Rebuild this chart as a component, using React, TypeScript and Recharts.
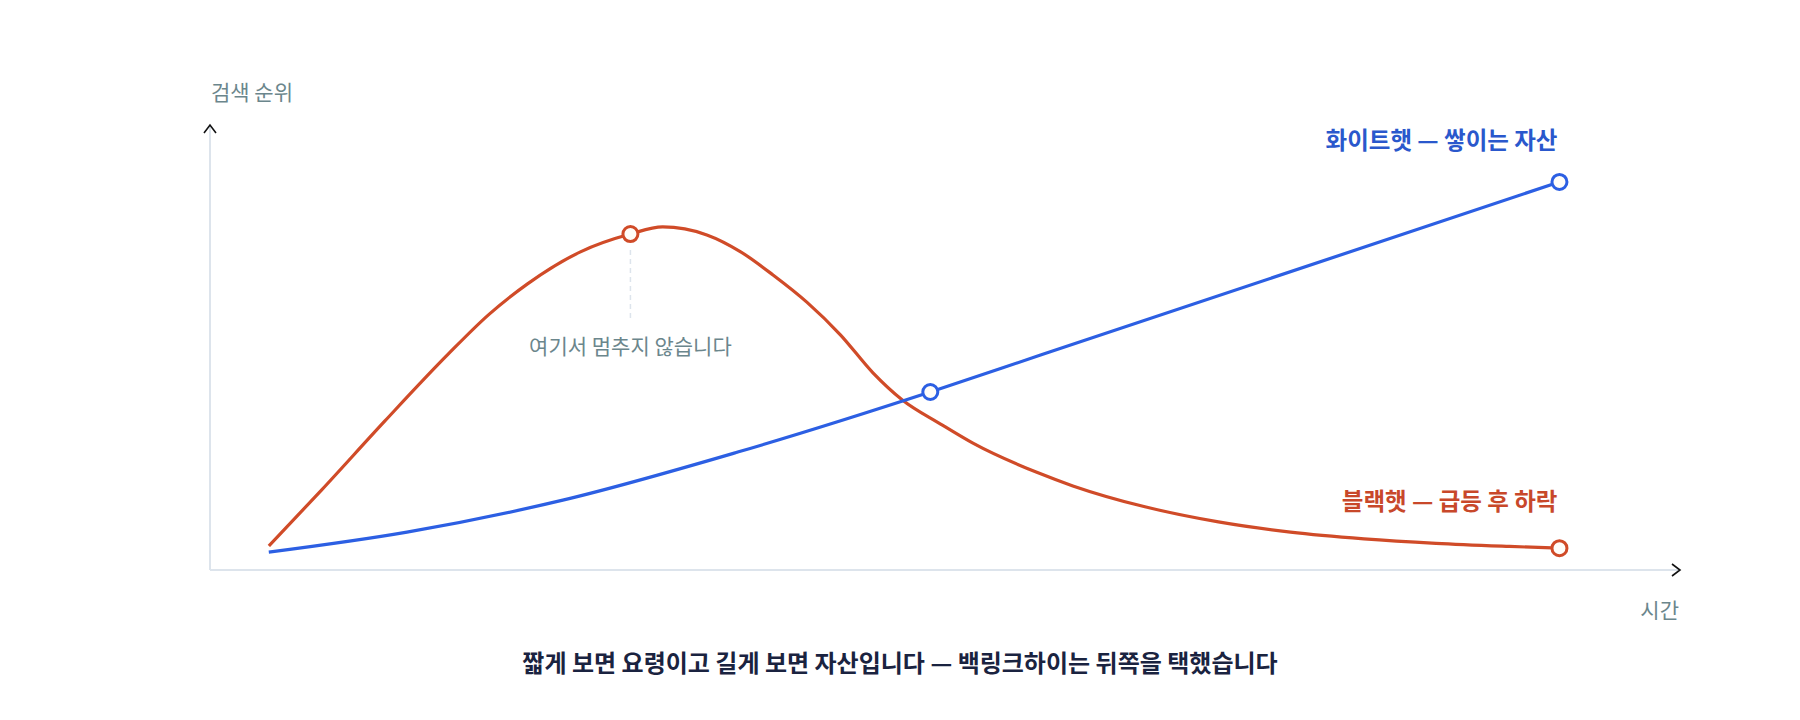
import { LineChart, Line, XAxis, YAxis, ReferenceDot, ReferenceLine } from "recharts";

// time (0-100 across the axis) and search rank (0-100 up the axis)
const blackHatTime = [4.0, 7.6, 11.9, 16.2, 19.0, 21.6, 25.2, 28.6, 30.8, 33.8, 36.1, 38.3, 40.6, 42.9, 45.1, 47.1, 49.7, 51.9, 56.2, 58.7, 63.6, 68.6, 73.5, 78.5, 83.4, 88.4, 91.8];
const blackHatRank = [5.4, 18.0, 33.5, 48.5, 57.5, 64.3, 71.5, 75.5, 77.1, 75.3, 71.5, 66.3, 60.2, 52.8, 44.3, 38.2, 32.8, 28.5, 22.0, 18.9, 14.2, 10.8, 8.5, 7.0, 6.0, 5.3, 4.9];
const blackHatMarks = [7, 26];

const whiteHatTime = [4.0, 13.4, 24.0, 35.9, 49.0, 56.5, 91.8];
const whiteHatRank = [4.0, 8.5, 15.7, 26.5, 40.0, 48.3, 87.2];
const whiteHatMarks = [4, 6];

const WHITE_LABEL = "화이트햇 — 쌓이는 자산";
const BLACK_LABEL = "블랙햇 — 급등 후 하락";
const PEAK_NOTE = "여기서 멈추지 않습니다";
const Y_TITLE = "검색 순위";
const X_TITLE = "시간";
const CAPTION = "짧게 보면 요령이고 길게 보면 자산입니다 — 백링크하이는 뒤쪽을 택했습니다";

const FONT = '"Noto Sans CJK KR", "Noto Sans", sans-serif';
const BLUE = "#2c5fe3";
const BLUE_TEXT = "#2a58cc";
const RED = "#d04b28";
const RED_TEXT = "#c8482a";
const MUTED = "#6b868c";
const AXIS = "#dde4ec";

const blackHat = blackHatTime.map((t, i) => ({ t, rank: blackHatRank[i] }));
const whiteHat = whiteHatTime.map((t, i) => ({ t, rank: whiteHatRank[i] }));

function makeDot(color: string, labelColor: string, marks: number[], label: string, labelDy: number, notedIndex?: number) {
  const last = Math.max(...marks);
  return (props: any) => {
    const { cx, cy, index } = props;
    if (!marks.includes(index)) return <g key={`d-${index}`} />;
    return (
      <g key={`d-${index}`}>
        {index === notedIndex && (
          <>
            <line x1={cx} y1={cy + 16} x2={cx} y2={cy + 84} stroke={AXIS} strokeWidth={1.5} strokeDasharray="5 4" />
            <text x={cx} y={cy + 120} textAnchor="middle" fontSize={21} fill={MUTED} fontFamily={FONT}>
              {PEAK_NOTE}
            </text>
          </>
        )}
        <circle cx={cx} cy={cy} r={7.5} fill="#fffdf9" stroke={color} strokeWidth={3} />
        {index === last && (
          <text x={cx - 2} y={cy + labelDy} textAnchor="end" fontSize={23.5} fontWeight={700} fill={labelColor} fontFamily={FONT}>
            {label}
          </text>
        )}
      </g>
    );
  };
}

export default function App() {
  return (
    <div style={{ position: "absolute", left: 0, top: 0, width: 1800, height: 720, background: "#fff", fontFamily: FONT }}>
      <LineChart width={1800} height={720} margin={{ top: 125, right: 120, bottom: 150, left: 210 }}>
        <XAxis type="number" dataKey="t" domain={[0, 100]} height={0} tick={false} tickLine={false} axisLine={false} />
        <YAxis type="number" dataKey="rank" domain={[0, 100]} width={0} tick={false} tickLine={false} axisLine={false} />
        <ReferenceLine y={0} stroke={AXIS} strokeWidth={2} />
        <ReferenceLine x={0} stroke={AXIS} strokeWidth={2} />
        <ReferenceDot
          x={100}
          y={0}
          r={0}
          shape={(p: any) => (
            <g>
              <path d={`M${p.cx - 8},${p.cy - 6} L${p.cx},${p.cy} L${p.cx - 8},${p.cy + 6}`} fill="none" stroke="#111" strokeWidth={1.6} />
              <text x={p.cx - 1} y={p.cy + 48} textAnchor="end" fontSize={21} fill={MUTED} fontFamily={FONT}>
                {X_TITLE}
              </text>
            </g>
          )}
        />
        <ReferenceDot
          x={0}
          y={100}
          r={0}
          shape={(p: any) => (
            <g>
              <path d={`M${p.cx - 6},${p.cy + 8} L${p.cx},${p.cy} L${p.cx + 6},${p.cy + 8}`} fill="none" stroke="#111" strokeWidth={1.6} />
              <text x={p.cx + 1} y={p.cy - 25} textAnchor="start" fontSize={21} fill={MUTED} fontFamily={FONT}>
                {Y_TITLE}
              </text>
            </g>
          )}
        />
        <Line
          data={blackHat}
          dataKey="rank"
          type="monotone"
          stroke={RED}
          strokeWidth={3.2}
          dot={makeDot(RED, RED_TEXT, blackHatMarks, BLACK_LABEL, -38, blackHatMarks[0])}
          activeDot={false}
          isAnimationActive={false}
        />
        <Line
          data={whiteHat}
          dataKey="rank"
          type="monotone"
          stroke={BLUE}
          strokeWidth={3.2}
          dot={makeDot(BLUE, BLUE_TEXT, whiteHatMarks, WHITE_LABEL, -33)}
          activeDot={false}
          isAnimationActive={false}
        />
      </LineChart>
      <div
        style={{
          position: "absolute",
          left: 0,
          top: 650,
          width: 1800,
          textAlign: "center",
          fontSize: 24,
          lineHeight: "24px",
          fontWeight: 600,
          color: "#1a2340",
        }}
      >
        {CAPTION}
      </div>
    </div>
  );
}
